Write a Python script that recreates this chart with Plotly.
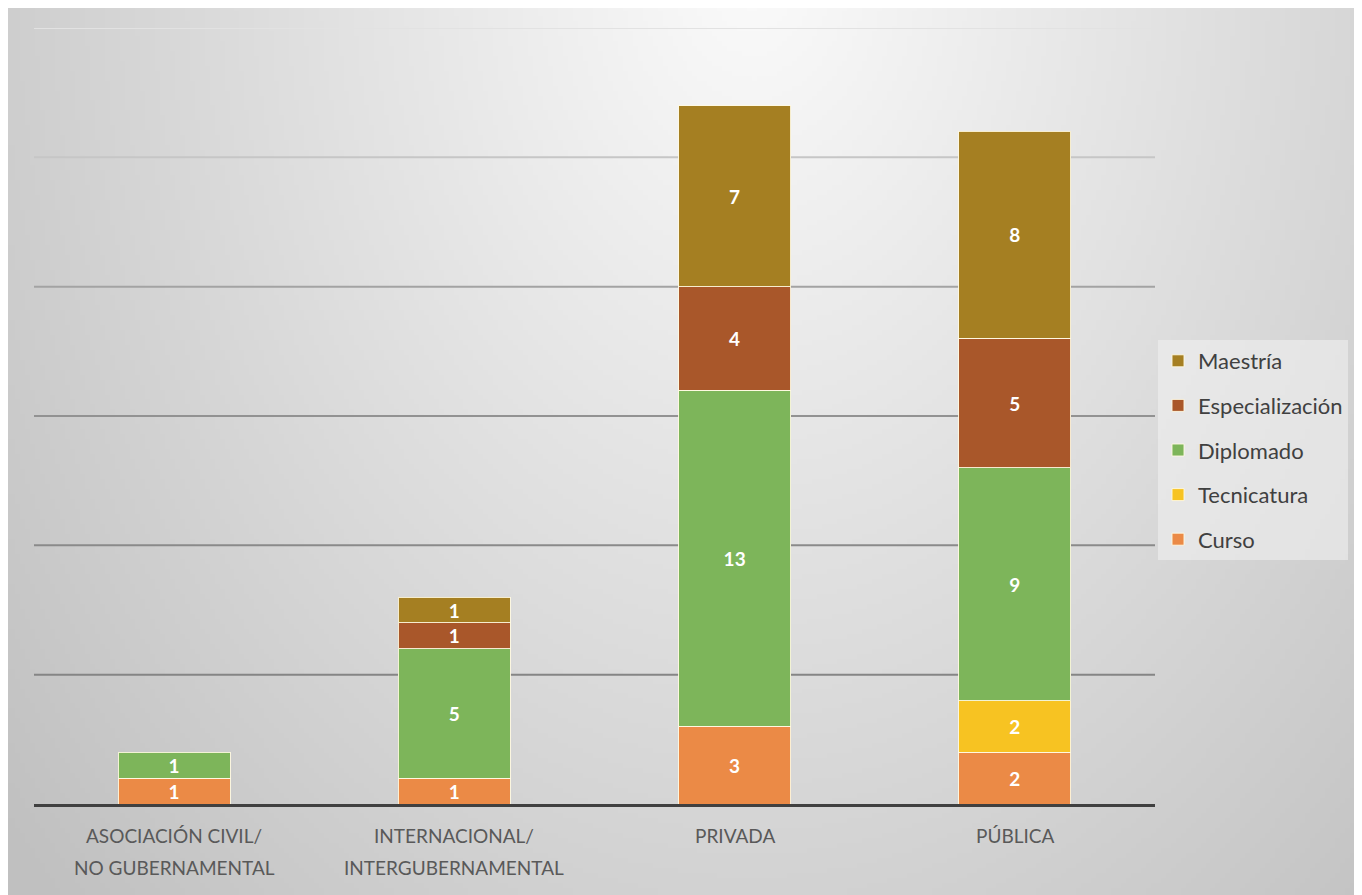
import base64, struct, zlib
import numpy as np
import plotly.graph_objects as go

# ---------------- data ----------------
categories = ["ASOCIACIÓN CIVIL/ NO GUBERNAMENTAL", "INTERNACIONAL/ INTERGUBERNAMENTAL", "PRIVADA", "PÚBLICA"]
label_line1 = ["ASOCIACIÓN CIVIL/", "INTERNACIONAL/", "PRIVADA", "PÚBLICA"]
label_line2 = ["NO GUBERNAMENTAL", "INTERGUBERNAMENTAL", "", ""]

curso = [1, 1, 3, 2]
tecnicatura = [None, None, None, 2]
diplomado = [1, 5, 13, 9]
especializacion = [None, 1, 4, 5]
maestria = [None, 1, 7, 8]

series_names = ["Curso", "Tecnicatura", "Diplomado", "Especialización", "Maestría"]
series_values = [curso, tecnicatura, diplomado, especializacion, maestria]
series_colors = ["#EB8A46", "#F7C322", "#7DB55A", "#A9572A", "#A57F22"]

grid_values = [5, 10, 15, 20, 25, 30]
grid_colors = ["#858585", "#8a8a8a", "#929292", "#a3a3a3", "#c6c6c6", "#e2e2e2"]

FONT = "Lato"

# ---------------- background gradient image ----------------
W, H = 272, 178
u = np.linspace(0, 1, W)[None, :]
v = np.linspace(0, 1, H)[:, None]
d = np.sqrt(((u - 0.55) / 0.72) ** 2 + ((v + 0.05) / 1.5) ** 2)
img = np.clip(251 - 58 * d, 192, 251).astype(np.uint8)

def png_bytes(arr):
    h, w = arr.shape
    raw = b"".join(b"\x00" + arr[i].tobytes() for i in range(h))
    def chunk(tag, data):
        c = struct.pack(">I", len(data)) + tag + data
        return c + struct.pack(">I", zlib.crc32(tag + data) & 0xFFFFFFFF)
    return (b"\x89PNG\r\n\x1a\n" + chunk(b"IHDR", struct.pack(">IIBBBBB", w, h, 8, 0, 0, 0, 0))
            + chunk(b"IDAT", zlib.compress(raw, 9)) + chunk(b"IEND", b""))

bg_uri = "data:image/png;base64," + base64.b64encode(png_bytes(img)).decode()

# ---------------- figure ----------------
FW, FH = 1354, 887
L, T, R, B = 26, 20, 207, 91
PW, PH = FW - L - R, FH - T - B

fig = go.Figure()
n = len(series_names)
for i, (name, vals, col) in enumerate(zip(series_names, series_values, series_colors)):
    fig.add_trace(go.Bar(
        x=categories, y=vals, name=name, legendgroup=name, legendrank=n - i,
        marker=dict(color=col, line=dict(color="rgba(255,250,225,0.9)", width=1)),
        texttemplate="%{y}", textposition="inside", insidetextanchor="middle",
        textangle=0, constraintext="none",
        textfont=dict(family=FONT, size=19, color="white", weight="bold"),
        hoverinfo="skip",
    ))

shapes = []
for gv, gc in zip(grid_values, grid_colors):
    shapes.append(dict(type="line", xref="paper", yref="y", x0=0, x1=1, y0=gv, y1=gv,
                       line=dict(color=gc, width=2), layer="below"))

annotations = []
for cat, l1, l2 in zip(categories, label_line1, label_line2):
    annotations.append(dict(x=cat, xref="x", yref="paper", y=-31 / PH, text=l1,
                            showarrow=False, yanchor="middle",
                            font=dict(family=FONT, size=19, color="#595959")))
    if l2:
        annotations.append(dict(x=cat, xref="x", yref="paper", y=-63 / PH, text=l2,
                                showarrow=False, yanchor="middle",
                                font=dict(family=FONT, size=19, color="#595959")))

fig.update_layout(
    width=FW, height=FH, autosize=False,
    margin=dict(l=L, r=R, t=T, b=B, pad=0),
    paper_bgcolor="#d8d8d8", plot_bgcolor="rgba(0,0,0,0)",
    barmode="stack", bargap=0.6,
    font=dict(family=FONT, color="#404040"),
    xaxis=dict(showticklabels=False, showgrid=False, zeroline=False,
               showline=True, linecolor="#404040", linewidth=3, ticks=""),
    yaxis=dict(range=[0, 30], showticklabels=False, showgrid=False, zeroline=False,
               showline=False, ticks=""),
    legend=dict(x=(1150 - L) / PW, y=(796 - 332) / PH, xanchor="left", yanchor="top",
                traceorder="grouped", tracegroupgap=13,
                bgcolor="rgba(240,240,240,0.6)",
                font=dict(family=FONT, size=22, color="#404040")),
    shapes=shapes,
    annotations=annotations,
    images=[dict(source=bg_uri, xref="paper", yref="paper",
                 x=-L / PW, y=1 + T / PH,
                 sizex=FW / PW, sizey=FH / PH,
                 xanchor="left", yanchor="top", sizing="stretch", layer="below")],
    showlegend=True,
)

fig.write_html("out.html")
